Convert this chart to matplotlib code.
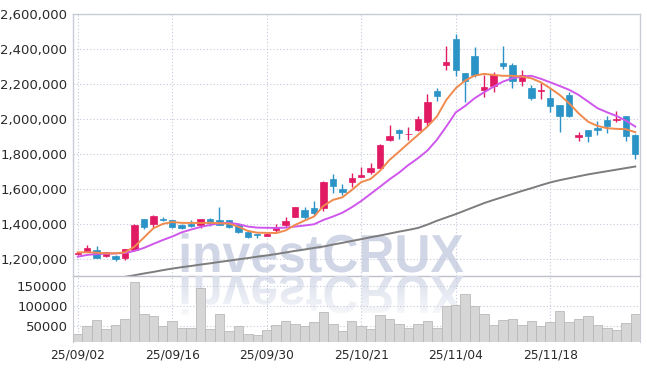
import numpy as np
import matplotlib
matplotlib.use("Agg")
import matplotlib.pyplot as plt
from matplotlib.ticker import FuncFormatter
from matplotlib.textpath import TextPath
from matplotlib.font_manager import FontProperties
from matplotlib.patches import PathPatch
from matplotlib.transforms import Affine2D

# daily candles, values in won
opens = [1232, 1250, 1255, 1222, 1222, 1210, 1255, 1430, 1402, 1432,
         1425, 1397, 1403, 1398, 1430, 1425, 1425, 1398, 1355, 1346,
         1336, 1368, 1398, 1442, 1482, 1493, 1493, 1657, 1600, 1642,
         1673, 1697, 1722, 1884, 1938, 1914, 1937, 1983, 2162, 2308,
         2457, 2263, 2362, 2166, 2188, 2323, 2310, 2217, 2181, 2160,
         2123, 2082, 2139, 1897, 1939, 1951, 1996, 1998, 2019, 1911]
highs = [1245, 1280, 1275, 1243, 1225, 1262, 1400, 1432, 1455, 1443,
         1428, 1400, 1425, 1432, 1435, 1498, 1428, 1400, 1357, 1348,
         1350, 1403, 1440, 1499, 1498, 1532, 1650, 1687, 1630, 1692,
         1728, 1750, 1860, 1967, 1946, 1958, 2018, 2144, 2178, 2420,
         2487, 2265, 2412, 2254, 2270, 2420, 2325, 2283, 2197, 2207,
         2178, 2085, 2155, 1930, 1942, 1993, 2020, 2050, 2022, 1914]
lows = [1228, 1245, 1208, 1212, 1190, 1195, 1250, 1372, 1388, 1418,
        1380, 1372, 1383, 1380, 1393, 1395, 1380, 1350, 1323, 1323,
        1333, 1352, 1383, 1440, 1430, 1454, 1478, 1582, 1568, 1616,
        1670, 1688, 1718, 1877, 1887, 1883, 1933, 1960, 2106, 2283,
        2249, 2098, 2245, 2127, 2155, 2287, 2178, 2193, 2111, 2115,
        2045, 1927, 2012, 1877, 1870, 1911, 1925, 1987, 1879, 1774]
closes = [1238, 1265, 1210, 1240, 1203, 1260, 1397, 1387, 1447, 1428,
          1385, 1378, 1393, 1430, 1408, 1398, 1385, 1355, 1330, 1337,
          1347, 1384, 1420, 1497, 1442, 1467, 1644, 1617, 1583, 1663,
          1682, 1723, 1853, 1905, 1920, 1919, 2002, 2099, 2135, 2330,
          2284, 2217, 2251, 2187, 2253, 2303, 2217, 2253, 2125, 2168,
          2074, 2017, 2022, 1909, 1903, 1942, 1960, 2003, 1903, 1805]

# moving average lines as drawn on the chart
ma_short = [1241, 1241, 1239, 1235, 1235, 1241, 1273, 1325, 1378, 1403,
            1414, 1409, 1409, 1408, 1410, 1407, 1405, 1387, 1363, 1353,
            1352, 1351, 1366, 1397, 1422, 1445, 1506, 1540, 1555, 1597,
            1642, 1660, 1707, 1769, 1816, 1864, 1911, 1959, 2016, 2111,
            2178, 2222, 2250, 2260, 2254, 2249, 2249, 2245, 2235, 2212,
            2178, 2140, 2092, 2035, 1987, 1963, 1950, 1946, 1944, 1927]
ma_mid = [1216, 1226, 1231, 1233, 1235, 1237, 1249, 1266, 1289, 1311,
          1331, 1355, 1371, 1386, 1397, 1407, 1409, 1402, 1388, 1382,
          1381, 1380, 1382, 1388, 1394, 1401, 1426, 1445, 1467, 1498,
          1534, 1575, 1616, 1658, 1696, 1740, 1778, 1822, 1883, 1959,
          2040, 2077, 2121, 2155, 2187, 2216, 2235, 2245, 2249, 2232,
          2212, 2191, 2169, 2140, 2102, 2064, 2041, 2020, 1993, 1959]
ma_long = [1054, 1063, 1073, 1082, 1092, 1101, 1110, 1120, 1129, 1139,
           1148, 1156, 1163, 1171, 1178, 1186, 1193, 1201, 1208, 1216,
           1223, 1231, 1240, 1249, 1257, 1266, 1274, 1285, 1295, 1306,
           1316, 1327, 1337, 1348, 1359, 1369, 1380, 1399, 1421, 1440,
           1459, 1480, 1501, 1522, 1540, 1557, 1574, 1591, 1607, 1624,
           1640, 1653, 1664, 1675, 1686, 1695, 1704, 1713, 1722, 1731]

# volume in thousands of shares
volume = [29.6, 48, 63.4, 42.3, 52.4, 67.7, 160, 80.4, 75.3, 49.9,
          60.9, 44.8, 44.8, 143.8, 42.3, 80.4, 35.5, 48, 29.6, 27.1,
          39.8, 52.4, 60.9, 55, 49.9, 58.4, 83.8, 55, 35.5, 60.9,
          48, 42.3, 77.9, 67.7, 55, 44.8, 55, 62.6, 44.8, 99,
          103.2, 128.6, 100.7, 80.4, 52.4, 65.1, 67.7, 52.4, 62.6, 49.9,
          60, 86.3, 58.4, 67.7, 75.3, 52.4, 44.8, 39.8, 57.7, 80.4]

tick_idx = [0, 10, 20, 30, 40, 50]
tick_labels = ["25/09/02", "25/09/16", "25/09/30", "25/10/21", "25/11/04", "25/11/18"]
price_ticks = [1200000, 1400000, 1600000, 1800000, 2000000, 2200000, 2400000, 2600000]
vol_ticks = [50000, 100000, 150000]

o = np.array(opens) * 1000
h = np.array(highs) * 1000
l = np.array(lows) * 1000
c = np.array(closes) * 1000
v = np.array(volume) * 1000
x = np.arange(len(o))

UP = "#e11a64"
DOWN = "#2c93c7"
GRID = "#c3c8da"
SPINE = "#c9ccd6"

plt.rcParams["font.family"] = ["DejaVu Sans"]

W, H = 647, 370
fig = plt.figure(figsize=(W / 100, H / 100), dpi=100)
fig.patch.set_facecolor("white")
ax = fig.add_axes([73 / W, 1 - 276 / H, 567 / W, 262 / H])
axv = fig.add_axes([73 / W, 1 - 342 / H, 567 / W, 66 / H])
for a in (ax, axv):
    a.set_facecolor("none")

# watermark and its mirrored, fading reflection
fp = FontProperties(family="Liberation Sans", weight="bold")
tp = TextPath((0, 0), "investCRUX", size=100, prop=fp)
bb = tp.get_extents()
sx = 281.6 / bb.width
sy = 38.3 / 71.6
to_fig = Affine2D().scale(1 / W, 1 / H) + fig.transFigure
wm = PathPatch(tp, facecolor="#d0d6e6", edgecolor="none", zorder=-2,
               transform=Affine2D().translate(-bb.x0, 0).scale(sx, sy).translate(181.7, H - 272) + to_fig)
fig.add_artist(wm)

refl_tr = Affine2D().translate(-bb.x0, 0).scale(sx, -sy).translate(181.7, H - 276) + to_fig
refl = PathPatch(tp, facecolor="none", edgecolor="none", transform=refl_tr)
fig.add_artist(refl)
grad = np.ones((66, 2, 4))
grad[..., 0] = 218 / 255
grad[..., 1] = 223 / 255
grad[..., 2] = 236 / 255
grad[..., 3] = np.clip(np.linspace(1.0, -0.3, 66), 0, 1)[:, None]
im = axv.imshow(grad, extent=(0, 1, 0, 1), transform=axv.transAxes,
                aspect="auto", zorder=0.2, interpolation="bilinear")
im.set_clip_path(refl)

# candles
up = c >= o
cols = np.where(up, UP, DOWN)
ax.vlines(x, l, h, colors=cols, lw=1, zorder=3)
ax.bar(x, c - o, bottom=o, width=0.68, color=cols, edgecolor=cols, lw=0.5, zorder=4)

ax.plot(x, np.array(ma_long) * 1000, color="#7d7d7d", lw=1.4, zorder=2)
ax.plot(x, np.array(ma_mid) * 1000, color="#cf57ec", lw=1.4, zorder=5)
ax.plot(x, np.array(ma_short) * 1000, color="#f08a4e", lw=1.4, zorder=5)

ax.set_xlim(-0.5, len(x) - 0.5)
ax.set_ylim(1105700, 2602000)
ax.set_yticks(price_ticks)
ax.yaxis.set_major_formatter(FuncFormatter(lambda val, pos: f"{int(val):,}"))
ax.set_xticks(tick_idx)
ax.tick_params(axis="x", length=0, labelbottom=False)
ax.tick_params(axis="y", length=0, pad=4, labelsize=9.5, labelcolor="#2a2a2a")
ax.grid(True, color=GRID, linestyle=(0, (1, 2)), lw=0.8)
ax.set_axisbelow(True)
for s in ax.spines.values():
    s.set_color(SPINE)
    s.set_linewidth(1)
ax.spines["bottom"].set_color("#bfc1c8")

# volume panel
axv.bar(x, v, width=1.0, color="#d6d6d6", edgecolor="#b9b9b9", lw=0.6, zorder=3)
axv.set_xlim(-0.5, len(x) - 0.5)
axv.set_ylim(9000, 175000)
axv.set_yticks(vol_ticks)
axv.set_xticks(tick_idx)
axv.set_xticklabels(tick_labels)
axv.tick_params(axis="x", length=0, pad=5, labelsize=8.8, labelcolor="#2a2a2a")
axv.tick_params(axis="y", length=0, pad=4, labelsize=9.5, labelcolor="#2a2a2a")
axv.grid(True, color=GRID, linestyle=(0, (1, 2)), lw=0.8)
axv.set_axisbelow(True)
for s in axv.spines.values():
    s.set_color(SPINE)
axv.spines["top"].set_visible(False)
axv.spines["bottom"].set_visible(False)

fig.savefig("out.png", dpi=100, facecolor="white")
